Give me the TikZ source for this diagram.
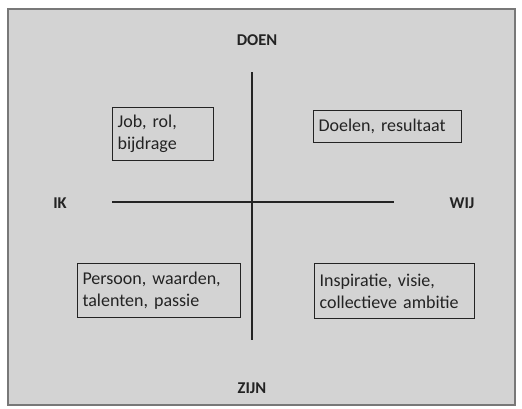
\documentclass[tikz,border=0pt]{standalone}
\usepackage{fontspec}
\setmainfont{Carlito}
\usepackage{xcolor}
\definecolor{panelgray}{RGB}{211,211,211}
\definecolor{framegray}{RGB}{120,120,120}
\definecolor{inkgray}{RGB}{35,35,35}
\usetikzlibrary{positioning}
\tikzset{
    axis/.style={font=\fontsize{16.5}{19}\selectfont\bfseries, text=inkgray},
    field/.style={draw=inkgray, line width=1.1pt, anchor=north west, align=left,
        inner xsep=5pt, inner ysep=4pt, text=inkgray,
        font=\fontsize{18}{22}\selectfont},
    cross/.style={draw=inkgray, line width=1.2pt}
}

\begin{document}
\begin{tikzpicture}[x=1pt, y=-1pt]
      \useasboundingbox (0,0) rectangle (522,408);
      \draw[framegray, fill=panelgray, line width=1.2pt] (8,9) rectangle (515,405);

      \path
          (257,40) node[axis] (doen) {DOEN}
          (252,388) node[axis] (zijn) {ZIJN}
          (60,203) node[axis] (ik) {IK}
          (462,203) node[axis] (wij) {WIJ};

      \coordinate (v-top) at (252,72);
      \coordinate (v-bot) at (252,340);
      \coordinate (h-left) at (112,202);
      \coordinate (h-right) at (394,202);

      \draw[cross] (v-top) -- (v-bot);
      \draw[cross] (h-left) -- (h-right);

      \node[field, text width=91pt, minimum height=53pt] (job) at (112,107) {Job, rol,\\bijdrage};
      \node[field, text width=138pt, minimum height=32pt] (doel) at (313,110) {Doelen, resultaat};
      \node[field, text width=153pt, minimum height=54pt] (pers) at (77,263) {Persoon, waarden,\\talenten, passie};
      \node[field, text width=150pt, minimum height=55pt] (insp) at (314,263) {Inspiratie, visie,\\collectieve ambitie};
\end{tikzpicture}
\end{document}
